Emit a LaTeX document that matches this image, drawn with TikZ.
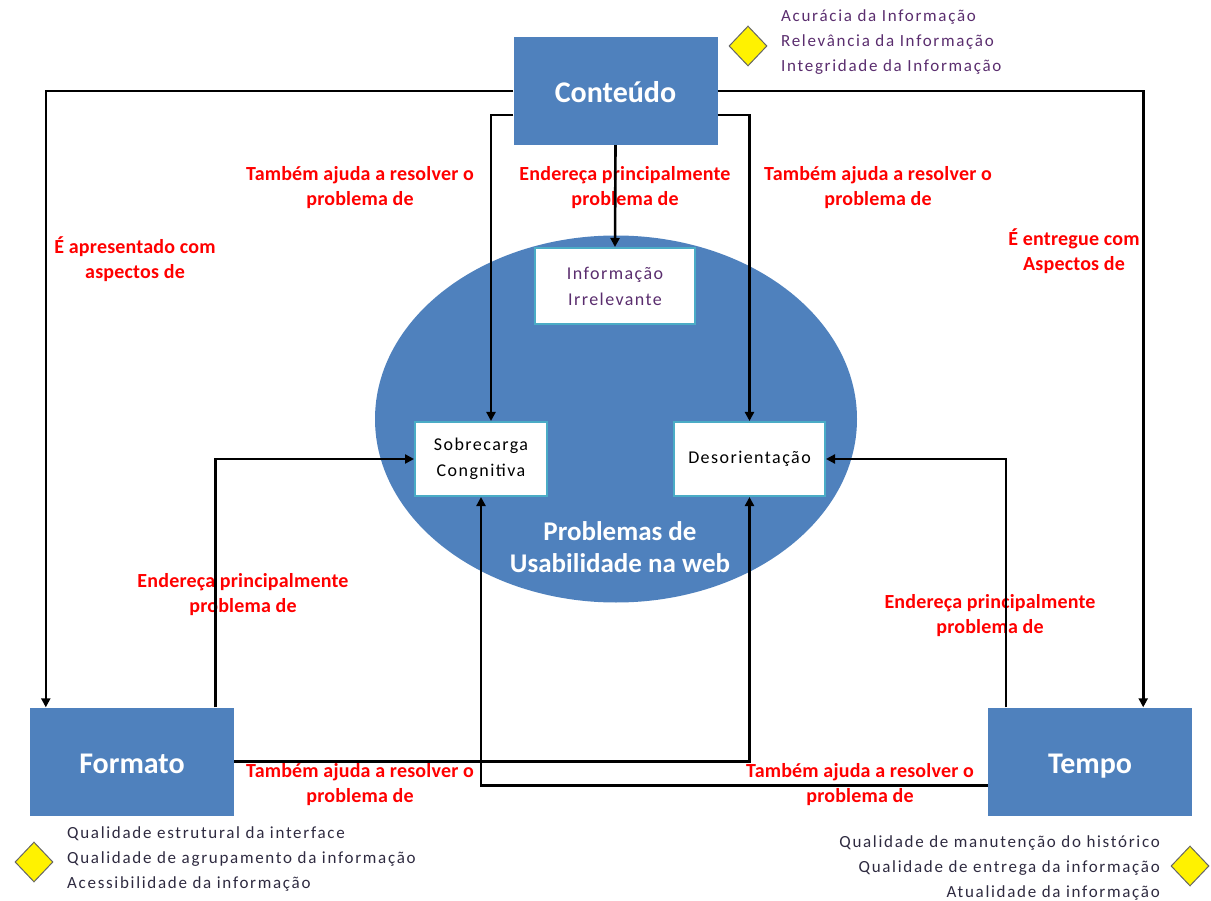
\documentclass[tikz,border=0pt]{standalone}
\usepackage{fontspec}
\setmainfont{Carlito}
\usetikzlibrary{arrows.meta,shapes.geometric,calc}
\definecolor{boxblue}{HTML}{4F81BD}
\definecolor{edgeteal}{HTML}{4BACC6}
\definecolor{legendpurple}{HTML}{5A2D6E}
\definecolor{legenddark}{HTML}{2E2A40}
\begin{document}
\begin{tikzpicture}[x=1pt,y=-1pt,
  mainbox/.style={fill=boxblue, minimum width=204pt, minimum height=108pt, inner sep=0pt, text=white, text height=24pt, text depth=1pt, font=\fontsize{30}{34}\selectfont\bfseries},
  probbox/.style={fill=white, draw=edgeteal, line width=2pt, inner sep=0pt, align=center, font=\fontsize{18}{26}\selectfont\addfontfeature{LetterSpace=8}},
  lbl/.style={text=red, align=center, font=\fontsize{20}{25}\selectfont\bfseries\addfontfeature{LetterSpace=1}, inner sep=0pt},
  conn/.style={draw=black, line width=2.6pt, -{Triangle[length=9pt,width=9pt]}},
  gem/.style={diamond, fill=yellow, draw=black!60, line width=1pt, minimum width=38pt, minimum height=40pt, inner sep=0pt},
  legend/.style={font=\fontsize{17}{25}\selectfont\addfontfeature{LetterSpace=10}, inner sep=0pt}
]
\useasboundingbox (0,0) rectangle (1211,901);

% central ellipse
\node[ellipse, fill=boxblue, minimum width=482pt, minimum height=367pt, inner sep=0pt] (prob) at (616,419) {};
\node[text=white, font=\fontsize{27}{32}\selectfont\bfseries, align=center, inner sep=0pt] (probtxt) at (620,547) {Problemas de\\Usabilidade na web};

% main boxes
\node[mainbox] (cont) at (615.5,91) {Conteúdo};
\node[mainbox] (form) at (132,761.5) {Formato};
\node[mainbox] (tempo) at (1090,761.5) {Tempo};

% problem boxes
\node[probbox, minimum width=160pt, minimum height=76pt, text=legendpurple] (info) at (615,286) {Informação\\Irrelevante};
\node[probbox, minimum width=132pt, minimum height=74pt] (sob) at (481,459) {Sobrecarga\\Congnitiva};
\node[probbox, minimum width=151pt, minimum height=74pt] (des) at (749.5,459) {Desorientação};

% diamonds
\node[gem] (gtop) at (748,46) {};
\node[gem] (gbl) at (34,862) {};
\node[gem] (gbr) at (1190,866) {};

% legends
\node[legend, text=legendpurple, align=left, anchor=west] (legtop) at (781,42) {Acurácia da Informação\\Relevância da Informação\\Integridade da Informação};
\node[legend, text=legenddark, align=left, anchor=west] (legbl) at (67,859) {Qualidade estrutural da interface\\Qualidade de agrupamento da informação\\Acessibilidade da informação};
\node[legend, text=legenddark, align=right, anchor=east] (legbr) at (1160,868) {Qualidade de manutenção do histórico\\Qualidade de entrega da informação\\Atualidade da informação};

% labels
\node[lbl] (l1) at (360,188) {Também ajuda a resolver o\\problema de};
\node[lbl] (l2) at (625,188) {Endereça principalmente\\problema de};
\node[lbl] (l3) at (878,188) {Também ajuda a resolver o\\problema de};
\node[lbl] (l4) at (135,259) {É apresentado com\\aspectos de};
\node[lbl] (l5) at (1074,251) {É entregue com\\Aspectos de};
\node[lbl] (l6) at (243,595) {Endereça principalmente\\problema de};
\node[lbl] (l7) at (990,616) {Endereça principalmente\\problema de};
\node[lbl] (l8) at (360,785) {Também ajuda a resolver o\\problema de};
\node[lbl] (l9) at (860,785) {Também ajuda a resolver o\\problema de};

% connectors
\draw[conn] (cont.west) -| ([xshift=16pt]form.north west);
\draw[conn] (cont.east) -| ([xshift=-49pt]tempo.north east);
\draw[conn] ([yshift=-24pt]cont.west) -| ([xshift=10pt]sob.north);
\draw[conn] ([yshift=-24pt]cont.east) -| (des.north);
\draw[conn] (cont.south) -- (info.north);
\draw[conn] ([xshift=-19pt]form.north east) |- (sob.west);
\draw[conn] ([xshift=18pt]tempo.north west) |- (des.east);
\draw[conn] (form.east) -| (des.south);
\draw[conn] ([yshift=-24pt]tempo.west) -| (sob.south);
\end{tikzpicture}
\end{document}
